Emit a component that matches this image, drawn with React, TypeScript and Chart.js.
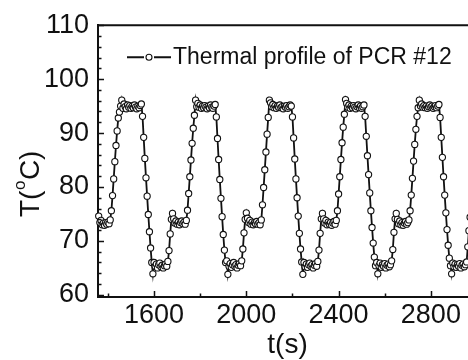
import React, { useEffect, useRef } from "react";
import { Chart, registerables } from "chart.js";
Chart.register(...registerables);

const FONT = '"Liberation Sans", Arial, Helvetica, sans-serif';
const INK = "#111111";

const seriesLabel = "Thermal profile of PCR #12";
const xTitle = "t(s)";
const xMajorTicks = [1600, 2000, 2400, 2800];
const xMinorTicks = [1400, 1800, 2200, 2600, 3000];
const yMajorTicks = [60, 70, 80, 90, 100, 110];
const yMinorTicks = [62, 64, 66, 68, 72, 74, 76, 78, 82, 84, 86, 88, 92, 94, 96, 98, 102, 104, 106, 108];

// [time (s), temperature (°C)]
const lead: [number, number][] = [
  [1360, 74.6], [1365, 73.4], [1370, 73.8], [1375, 73.0], [1380, 73.3], [1385, 72.9], [1390, 73.4], [1395, 73.1], [1400, 73.5], [1405, 73.2], [1410, 73.9],
];
const cycle1: [number, number][] = [
  [1415, 75.6], [1420, 78.4], [1425, 81.5], [1430, 84.7], [1435, 87.7], [1440, 90.4], [1445, 92.8], [1450, 93.9], [1455, 95.0], [1460, 96.1],
  [1465, 94.6], [1470, 95.4], [1475, 94.9], [1480, 94.5], [1485, 95.2], [1490, 94.8], [1495, 95.1], [1500, 94.6], [1505, 95.0], [1510, 94.7], [1515, 95.2], [1520, 94.8], [1525, 94.5], [1530, 95.0], [1535, 94.7], [1540, 95.1], [1545, 95.4],
  [1550, 93.1], [1555, 89.2], [1560, 85.3], [1565, 81.7], [1570, 78.3], [1575, 74.9], [1580, 71.7], [1585, 68.7], [1590, 66.0], [1595, 63.9],
  [1600, 66.0], [1605, 65.3], [1610, 65.7], [1615, 65.0], [1620, 65.6], [1625, 65.9], [1630, 65.2], [1635, 65.5], [1640, 65.0], [1645, 65.4], [1650, 65.7], [1655, 65.3], [1660, 66.2],
  [1665, 68.2], [1670, 71.3], [1675, 74.0], [1680, 75.1],
  [1685, 74.1], [1690, 73.3], [1695, 73.7], [1700, 73.1], [1705, 73.5], [1710, 73.0], [1715, 73.4], [1720, 73.7], [1725, 73.2], [1730, 73.5], [1735, 73.1], [1740, 73.8],
];
const cycle2: [number, number][] = [
  [1745, 75.7], [1750, 78.8], [1755, 81.9], [1760, 85.0], [1765, 88.1], [1770, 90.9], [1775, 93.3], [1780, 96.1],
  [1785, 94.9], [1790, 95.5], [1795, 94.8], [1800, 95.2], [1805, 94.6], [1810, 95.0], [1815, 94.7], [1820, 95.1], [1825, 94.8], [1830, 94.5], [1835, 95.0], [1840, 94.7], [1845, 95.2], [1850, 94.8], [1855, 94.6], [1860, 95.0], [1865, 95.3],
  [1870, 93.0], [1875, 89.0], [1880, 85.1], [1885, 81.4], [1890, 77.9], [1895, 74.5], [1900, 71.2], [1905, 68.3], [1910, 66.0],
  [1915, 66.3], [1920, 63.8], [1925, 65.3], [1930, 65.8], [1935, 65.1], [1940, 65.6], [1945, 66.0], [1950, 65.3], [1955, 65.6], [1960, 65.0], [1965, 65.5], [1970, 65.8], [1975, 65.4], [1980, 66.3],
  [1985, 68.5], [1990, 71.5], [1995, 74.0], [2000, 75.2],
  [2005, 74.2], [2010, 73.4], [2015, 73.8], [2020, 73.1], [2025, 73.5], [2030, 73.0], [2035, 73.4], [2040, 73.2], [2045, 73.6], [2050, 73.1], [2055, 73.4], [2060, 73.0], [2065, 73.9],
];
const cycle3: [number, number][] = [
  [2070, 76.7], [2075, 79.9], [2080, 83.2], [2085, 86.5], [2090, 89.8], [2095, 92.9], [2100, 96.1],
  [2105, 95.6], [2110, 94.9], [2115, 95.3], [2120, 94.7], [2125, 95.1], [2130, 94.6], [2135, 95.0], [2140, 94.8], [2145, 95.2], [2150, 94.7], [2155, 94.9], [2160, 94.5], [2165, 95.0], [2170, 94.8], [2175, 95.1], [2180, 94.6], [2185, 94.9], [2190, 95.2], [2195, 95.0],
  [2200, 93.0], [2205, 89.1], [2210, 85.2], [2215, 81.5], [2220, 78.0], [2225, 74.6], [2230, 71.4], [2235, 68.5], [2240, 66.1], [2245, 63.8],
  [2250, 66.0], [2255, 65.2], [2260, 65.7], [2265, 65.1], [2270, 65.6], [2275, 65.9], [2280, 65.3], [2285, 65.6], [2290, 65.0], [2295, 65.5], [2300, 65.8], [2305, 65.3], [2310, 66.2],
  [2315, 68.3], [2320, 71.4], [2325, 74.1], [2330, 75.1],
  [2335, 74.1], [2340, 73.3], [2345, 73.8], [2350, 73.0], [2355, 73.5], [2360, 73.1], [2365, 73.4], [2370, 72.9], [2375, 73.3], [2380, 73.6], [2385, 73.1], [2390, 73.8],
];
const cycle4: [number, number][] = [
  [2395, 75.6], [2400, 78.7], [2405, 81.9], [2410, 85.1], [2415, 88.2], [2420, 91.1], [2425, 93.5], [2430, 96.2],
  [2435, 95.5], [2440, 94.8], [2445, 95.2], [2450, 94.6], [2455, 95.0], [2460, 94.7], [2465, 95.1], [2470, 94.8], [2475, 94.5], [2480, 94.9], [2485, 95.2], [2490, 94.7], [2495, 95.0], [2500, 94.6], [2505, 94.9], [2510, 95.2],
  [2515, 93.1], [2520, 89.4], [2525, 85.8], [2530, 82.3], [2535, 78.9], [2540, 75.6], [2545, 72.5], [2550, 69.6], [2555, 67.0], [2560, 65.4], [2565, 66.0], [2570, 63.9],
  [2575, 65.4], [2580, 65.9], [2585, 65.1], [2590, 65.6], [2595, 65.3], [2600, 65.8], [2605, 65.0], [2610, 65.5], [2615, 65.7], [2620, 65.2], [2625, 65.6], [2630, 66.3],
  [2635, 68.4], [2640, 71.6], [2645, 74.1], [2650, 75.1],
  [2655, 74.0], [2660, 73.2], [2665, 73.7], [2670, 73.0], [2675, 73.4], [2680, 72.9], [2685, 73.3], [2690, 73.6], [2695, 73.1], [2700, 73.4], [2705, 73.9],
];
const cycle5: [number, number][] = [
  [2710, 75.6], [2715, 78.5], [2720, 81.6], [2725, 84.8], [2730, 87.9], [2735, 90.7], [2740, 93.1], [2745, 94.7], [2750, 96.1],
  [2755, 95.0], [2760, 95.4], [2765, 94.8], [2770, 95.1], [2775, 94.7], [2780, 95.0], [2785, 94.6], [2790, 94.9], [2795, 95.2], [2800, 94.8], [2805, 95.0], [2810, 94.6], [2815, 94.9], [2820, 95.1], [2825, 94.7], [2830, 95.0], [2835, 95.3],
  [2840, 92.9], [2845, 89.2], [2850, 85.5], [2855, 81.9], [2860, 78.5], [2865, 75.2], [2870, 72.1], [2875, 69.2], [2880, 66.8], [2885, 65.4], [2890, 63.9],
  [2895, 65.9], [2900, 65.2], [2905, 65.7], [2910, 65.1], [2915, 65.6], [2920, 65.3], [2925, 65.8], [2930, 65.0], [2935, 65.5], [2940, 65.7], [2945, 65.2], [2950, 65.6], [2955, 66.1],
  [2960, 68.9], [2965, 71.9], [2970, 74.4],
];

const profile = [...lead, ...cycle1, ...cycle2, ...cycle3, ...cycle4, ...cycle5];

const decorations = {
  id: "decorations",
  afterDraw(chart: any) {
    const { ctx, chartArea: a, scales } = chart;
    const xs = scales.x;
    const ys = scales.y;
    ctx.save();
    ctx.strokeStyle = INK;
    ctx.fillStyle = INK;
    // frame top and right
    ctx.lineWidth = 2;
    ctx.beginPath();
    ctx.moveTo(a.left - 1, a.top);
    ctx.lineTo(a.right, a.top);
    ctx.lineTo(a.right, a.bottom);
    ctx.stroke();
    // inward ticks
    ctx.lineWidth = 1.5;
    ctx.beginPath();
    for (const v of yMajorTicks) {
      const p = Math.round(ys.getPixelForValue(v)) + 0.5;
      ctx.moveTo(a.left, p);
      ctx.lineTo(a.left + 6, p);
    }
    for (const v of yMinorTicks) {
      const p = Math.round(ys.getPixelForValue(v)) + 0.5;
      ctx.moveTo(a.left, p);
      ctx.lineTo(a.left + 3.5, p);
    }
    for (const v of xMajorTicks) {
      const p = Math.round(xs.getPixelForValue(v)) + 0.5;
      ctx.moveTo(p, a.bottom);
      ctx.lineTo(p, a.bottom - 6);
    }
    for (const v of xMinorTicks) {
      const p = Math.round(xs.getPixelForValue(v)) + 0.5;
      ctx.moveTo(p, a.bottom);
      ctx.lineTo(p, a.bottom - 3.5);
    }
    ctx.stroke();

    // legend
    const ly = a.top + 32;
    const lx = a.left + 29;
    ctx.lineWidth = 1.9;
    ctx.beginPath();
    ctx.moveTo(lx, ly);
    ctx.lineTo(lx + 17, ly);
    ctx.moveTo(lx + 27, ly);
    ctx.lineTo(lx + 44, ly);
    ctx.stroke();
    ctx.lineWidth = 1.1;
    ctx.beginPath();
    ctx.arc(lx + 22, ly, 3, 0, Math.PI * 2);
    ctx.fillStyle = "#fff";
    ctx.fill();
    ctx.stroke();
    ctx.fillStyle = INK;
    ctx.font = `23px ${FONT}`;
    ctx.textBaseline = "middle";
    ctx.textAlign = "left";
    ctx.fillText(seriesLabel, lx + 46, ly);

    // x title
    ctx.font = `28px ${FONT}`;
    ctx.textAlign = "center";
    ctx.textBaseline = "alphabetic";
    ctx.fillText(xTitle, (a.left + a.right) / 2, 353);

    // y title: T(°C) with superscript o
    ctx.save();
    ctx.translate(39, 217);
    ctx.rotate(-Math.PI / 2);
    ctx.textAlign = "left";
    ctx.textBaseline = "alphabetic";
    ctx.font = `28px ${FONT}`;
    let cx = 0;
    ctx.fillText("T(", cx, 0);
    cx += ctx.measureText("T(").width;
    ctx.font = `17px ${FONT}`;
    ctx.fillText("o", cx + 0.5, -14);
    cx += ctx.measureText("o").width + 1;
    ctx.font = `28px ${FONT}`;
    ctx.fillText("C)", cx, 0);
    ctx.restore();

    ctx.restore();
  },
};

export default function App() {
  const ref = useRef<HTMLCanvasElement>(null);
  useEffect(() => {
    const chart = new Chart(ref.current as HTMLCanvasElement, {
      type: "line",
      data: {
        datasets: [
          {
            label: seriesLabel,
            data: profile.map(([x, y]) => ({ x, y })),
            borderColor: INK,
            borderWidth: 1.8,
            pointRadius: 3.1,
            pointBorderWidth: 1.1,
            pointBackgroundColor: "#fff",
            pointBorderColor: INK,
            tension: 0,
            clip: false as any,
          },
        ],
      },
      options: {
        animation: false,
        responsive: false,
        devicePixelRatio: 1,
        layout: { padding: { top: 23, right: 13, left: 0, bottom: 0 } },
        plugins: { legend: { display: false }, tooltip: { enabled: false } },
        scales: {
          x: {
            type: "linear",
            min: 1357,
            max: 3000,
            afterBuildTicks: (s: any) => {
              s.ticks = xMajorTicks.map((v) => ({ value: v }));
            },
            afterFit: (s: any) => {
              s.height = 63;
            },
            grid: { display: false, drawTicks: false },
            border: { display: true, color: INK, width: 2 },
            ticks: {
              font: { family: FONT, size: 27 },
              color: INK,
              padding: 2,
              maxRotation: 0,
              autoSkip: false,
              callback: (v: any) => String(v),
            },
          },
          y: {
            type: "linear",
            min: 59.6,
            max: 110,
            afterBuildTicks: (s: any) => {
              s.ticks = yMajorTicks.map((v) => ({ value: v }));
            },
            afterFit: (s: any) => {
              s.width = 98;
            },
            grid: { display: false, drawTicks: false },
            border: { display: true, color: INK, width: 2 },
            ticks: {
              font: { family: FONT, size: 27 },
              color: INK,
              padding: 9,
              autoSkip: false,
              callback: (v: any) => String(v),
            },
          },
        },
      },
      plugins: [decorations],
    });
    return () => chart.destroy();
  }, []);
  return (
    <div
      style={{
        position: "fixed",
        left: 0,
        top: 0,
        width: 468,
        height: 360,
        overflow: "hidden",
        background: "#fff",
      }}
    >
      <canvas ref={ref} width={490} height={360} style={{ display: "block" }} />
    </div>
  );
}
